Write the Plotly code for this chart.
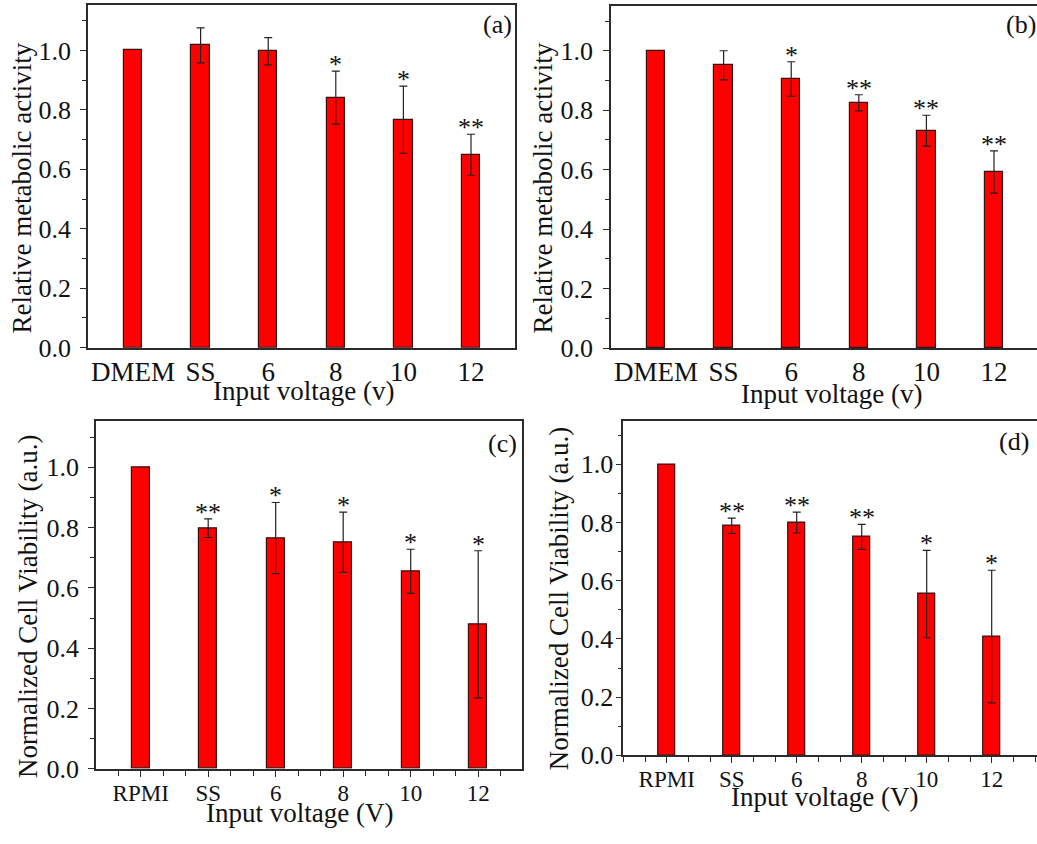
import plotly.graph_objects as go

FONT = "Liberation Serif, Times New Roman, serif"

# ---- data -------------------------------------------------------------
cats_ab = ["DMEM", "SS", "6", "8", "10", "12"]
cats_cd = ["RPMI", "SS", "6", "8", "10", "12"]

vals_a = [1.000, 1.017, 0.997, 0.841, 0.767, 0.649]
err_a = [0.059, 0.046, 0.089, 0.113, 0.069]          # SS .. 12
sig_a = ["", "", "", "*", "*", "**"]

vals_b = [1.000, 0.951, 0.905, 0.825, 0.731, 0.592]
err_b = [0.049, 0.058, 0.027, 0.052, 0.071]
sig_b = ["", "", "*", "**", "**", "**"]

vals_c = [1.000, 0.798, 0.765, 0.751, 0.655, 0.479]
err_c = [0.031, 0.118, 0.100, 0.073, 0.244]
sig_c = ["", "**", "*", "*", "*", "*"]

vals_d = [1.000, 0.789, 0.800, 0.751, 0.554, 0.408]
err_d = [0.026, 0.036, 0.043, 0.150, 0.228]
sig_d = ["", "**", "**", "**", "*", "*"]

ytitle_ab = "Relative metabolic activity"
ytitle_cd = "Normalized Cell Viability (a.u.)"
xtitle_ab = "Input voltage (v)"
xtitle_cd = "Input voltage (V)"

# ---- layout geometry (pixels) -----------------------------------------
W, H = 1037, 844

panels = [
    dict(px=(88, 515), py=(5, 354), xr=(-0.666, 5.651), ymax=1.153, tag="(a)",
         cats=cats_ab, vals=vals_a, err=err_a, sig=sig_a,
         xt=xtitle_ab, yt=ytitle_ab, ymirror=True, xticks=False,
         xtitle_pos=(303, 398), ytitle_pos=(22, 192), tag_pos=(514, 25),
         xfont=27, ystand=4, xstand=-1),
    dict(px=(611, 1037), py=(6, 354.3), xr=(-0.666, 5.636), ymax=1.151, tag="(b)",
         cats=cats_ab, vals=vals_b, err=err_b, sig=sig_b,
         xt=xtitle_ab, yt=ytitle_ab, ymirror=False, xticks=False,
         xtitle_pos=(831, 401), ytitle_pos=(543, 192), tag_pos=(1038, 25),
         xfont=27, ystand=5, xstand=-1),
    dict(px=(96, 522), py=(429, 782.7), xr=(-0.662, 5.649), ymax=1.152, tag="(c)",
         cats=cats_cd, vals=vals_c, err=err_c, sig=sig_c,
         xt=xtitle_cd, yt=ytitle_cd, ymirror=True, xticks=True,
         xtitle_pos=(299, 828), ytitle_pos=(28, 617), tag_pos=(519, 452),
         xfont=23, ystand=4, xstand=-3),
    dict(px=(623.3, 1037), py=(428.3, 769), xr=(-0.668, 5.697), ymax=1.150, tag="(d)",
         cats=cats_cd, vals=vals_d, err=err_d, sig=sig_d,
         xt=xtitle_cd, yt=ytitle_cd, ymirror=False, xticks=True,
         xtitle_pos=(824, 811), ytitle_pos=(559, 609), tag_pos=(1031, 449),
         xfont=23, ystand=-3, xstand=-4),
]

fig = go.Figure()
annotations = []
line_col = "#2b2b2b"

for i, p in enumerate(panels, start=1):
    sfx = "" if i == 1 else str(i)
    xa, ya = "x" + sfx, "y" + sfx
    idx = list(range(len(p["cats"])))

    # bars
    fig.add_trace(go.Bar(
        x=idx, y=p["vals"], width=0.27, xaxis=xa, yaxis=ya,
        marker=dict(color="#ff0000", line=dict(color="#3a1010", width=1.2)),
        showlegend=False, hoverinfo="skip"))

    # error bars for the treated groups
    fig.add_trace(go.Scatter(
        x=idx[1:], y=p["vals"][1:], mode="markers", xaxis=xa, yaxis=ya,
        marker=dict(size=0.1, color="rgba(0,0,0,0)"),
        error_y=dict(type="data", array=p["err"], color="#222222",
                     thickness=1.2, width=4),
        showlegend=False, hoverinfo="skip"))

    # significance marks above the error bars
    for k in idx:
        if not p["sig"][k]:
            continue
        top = p["vals"][k] + p["err"][k - 1]
        annotations.append(dict(
            x=k, y=top, xref=xa, yref=ya, text=p["sig"][k], showarrow=False,
            xanchor="center", yanchor="bottom", yshift=-10,
            font=dict(family=FONT, size=26, color="#111")))

    x0, x1 = p["px"]
    yt, yb = p["py"]
    xaxis = dict(
        domain=[x0 / W, min(x1 / W, 1.0)], range=list(p["xr"]), anchor=ya,
        tickmode="array", tickvals=idx, ticktext=p["cats"],
        showgrid=False, zeroline=False, showline=True, linecolor=line_col,
        linewidth=1.5, mirror=True, ticklabelstandoff=p["xstand"],
        tickfont=dict(family=FONT, size=p["xfont"], color="#111"),
    )
    if p["xticks"]:
        xaxis.update(ticks="outside", ticklen=6, tickwidth=1.2, tickcolor=line_col,
                     minor=dict(tickmode="linear", tick0=0, dtick=1 / 3,
                                ticks="outside", ticklen=5, tickwidth=1.2,
                                tickcolor=line_col, showgrid=False))
    else:
        xaxis.update(ticks="")
    yaxis = dict(
        domain=[1 - yb / H, 1 - yt / H], range=[0, p["ymax"]], anchor=xa,
        tickmode="linear", tick0=0, dtick=0.2, tickformat=".1f",
        ticks="outside", ticklen=6, tickwidth=1.2, tickcolor=line_col,
        minor=dict(tickmode="linear", tick0=0, dtick=0.1, ticks="outside",
                   ticklen=4, tickwidth=1.2, tickcolor=line_col, showgrid=False),
        showgrid=False, zeroline=False, showline=True, linecolor=line_col,
        linewidth=1.5, mirror=p["ymirror"], ticklabelstandoff=p["ystand"],
        tickfont=dict(family=FONT, size=26, color="#111"),
    )
    fig.update_layout(**{"xaxis" + sfx: xaxis, "yaxis" + sfx: yaxis})

    # axis titles and panel tag
    tx, ty = p["xtitle_pos"]
    annotations.append(dict(x=tx / W, y=1 - ty / H, xref="paper", yref="paper",
                            text=p["xt"], showarrow=False, xanchor="center",
                            yanchor="middle",
                            font=dict(family=FONT, size=27, color="#111")))
    lx, ly = p["ytitle_pos"]
    annotations.append(dict(x=lx / W, y=1 - ly / H, xref="paper", yref="paper",
                            text=p["yt"], showarrow=False, textangle=-90,
                            xanchor="center", yanchor="middle",
                            font=dict(family=FONT, size=27, color="#111")))
    gx, gy = p["tag_pos"]
    annotations.append(dict(x=gx / W, y=1 - gy / H, xref="paper", yref="paper",
                            text=p["tag"], showarrow=False, xanchor="right",
                            yanchor="middle",
                            font=dict(family=FONT, size=26, color="#111")))

fig.update_layout(
    width=W, height=H, margin=dict(l=0, r=0, t=0, b=0),
    paper_bgcolor="white", plot_bgcolor="white",
    bargap=0, annotations=annotations,
)

fig.write_html("out.html")
